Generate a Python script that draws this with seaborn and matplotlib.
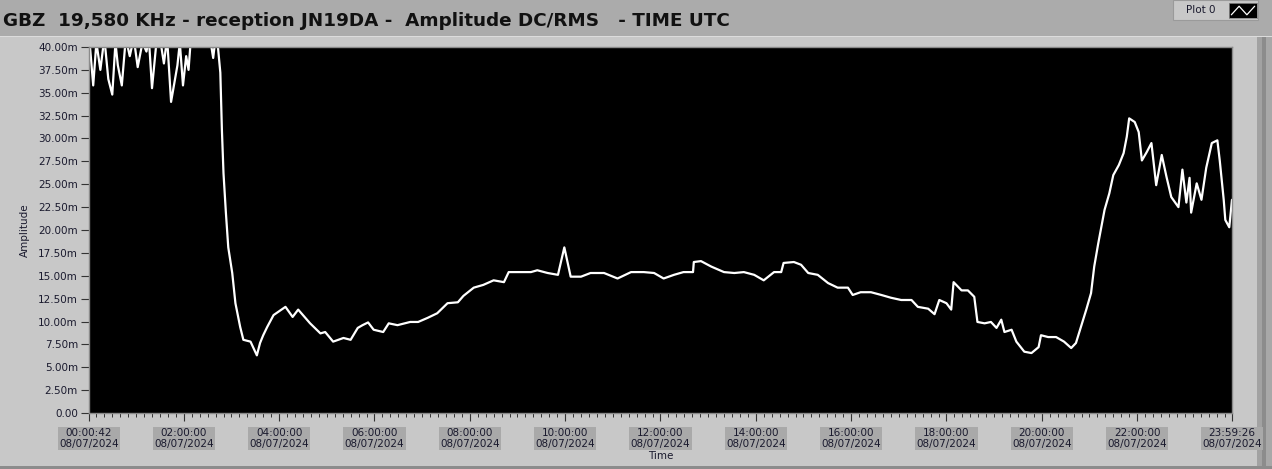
import matplotlib
matplotlib.use("Agg")
import matplotlib.pyplot as plt
import matplotlib.patches as mpatches
import seaborn as sns
import pandas as pd

# time in minutes after 00:00 UTC (08/07/2024), amplitude in mV (axis shows "m")
minutes = [
    1, 6, 10, 15, 20, 25, 30, 34, 37, 42, 47, 52, 57, 62, 68, 73, 76, 80, 85, 90,
    95, 99, 104, 108, 112, 115, 119, 123, 126, 129, 141, 153, 157, 160, 163, 166,
    168, 170, 173, 176, 181, 185, 191, 195, 204, 212, 216, 220, 225, 233, 248, 257,
    264, 279, 292, 298, 308, 321, 330, 339, 345, 352, 359, 371, 378, 389, 405, 415,
    427, 439, 452, 465, 472, 485, 497, 510, 523, 529, 544, 557, 565, 578, 591, 599,
    607, 620, 632, 649, 666, 683, 699, 712, 724, 737, 749, 761, 762, 771, 784, 800,
    813, 825, 838, 850, 863, 872, 875, 888, 897, 906, 918, 931, 943, 956, 962, 972,
    985, 998, 1010, 1023, 1036, 1044, 1057, 1065, 1071, 1080, 1086, 1089, 1099, 1107,
    1115, 1119, 1128, 1136, 1143, 1149, 1153, 1162, 1168, 1178, 1187, 1196, 1199, 1208,
    1218, 1228, 1237, 1243, 1250, 1256, 1262, 1266, 1271, 1279, 1285, 1290, 1297, 1303,
    1307, 1310, 1317, 1322, 1326, 1332, 1338, 1344, 1351, 1357, 1363, 1372, 1377, 1382,
    1386, 1388, 1395, 1401, 1407, 1414, 1421, 1424, 1429, 1431, 1436, 1439.4,
]
amplitude = [
    41, 35.8, 40.5, 37.5, 41, 36.5, 34.8, 40.5, 38, 35.8, 41, 39, 41, 37.8, 40.5, 39.5, 41, 35.5, 40, 41,
    38.2, 41, 34.0, 36, 38, 40.5, 35.8, 39, 37.5, 41, 42, 41, 38.8, 41, 40, 37.2,
    30.9, 26.2, 21.9, 18.1, 15.3, 12.0, 9.4, 8.0, 7.8, 6.3, 7.65, 8.5, 9.4, 10.7, 11.6, 10.5,
    11.3, 9.8, 8.7, 8.85, 7.8, 8.2, 8.0, 9.3, 9.6, 9.9, 9.1, 8.85, 9.8, 9.6, 9.95, 9.95,
    10.4, 10.9, 12.0, 12.1, 12.8, 13.7, 14.0, 14.5, 14.3, 15.4, 15.4, 15.4, 15.6, 15.3, 15.1, 18.1,
    14.9, 14.9, 15.3, 15.3, 14.7, 15.4, 15.4, 15.3, 14.7, 15.1, 15.4, 15.4, 16.5, 16.6, 16.0, 15.4,
    15.3, 15.4, 15.1, 14.5, 15.4, 15.4, 16.4, 16.5, 16.2, 15.3, 15.1, 14.2, 13.7, 13.7, 12.9, 13.2,
    13.2, 12.9, 12.6, 12.35, 12.35, 11.6, 11.4, 10.8, 12.35, 12.0, 11.3, 14.3, 13.4, 13.4,
    12.7, 9.95, 9.8, 9.95, 9.3, 10.2, 8.85, 9.1, 7.8, 6.7, 6.55, 7.2, 8.5, 8.3,
    8.3, 7.8, 7.1, 7.65, 9.6, 11.3, 13.1, 16.0, 18.5, 22.2, 24.0, 26.0, 27.1, 28.4,
    30.2, 32.2, 31.8, 30.7, 27.6, 28.5, 29.5, 24.9, 28.2, 25.8, 23.6, 22.5, 26.6, 23.0,
    25.7, 21.9, 25.1, 23.3, 26.8, 29.5, 29.8, 27.6, 23.3, 21.1, 20.3, 23.3,
]

x_tick_pos = [0.7, 120, 240, 360, 480, 600, 720, 840, 960, 1080, 1200, 1320, 1439.43]
x_tick_times = ["00:00:42", "02:00:00", "04:00:00", "06:00:00", "08:00:00", "10:00:00",
                "12:00:00", "14:00:00", "16:00:00", "18:00:00", "20:00:00", "22:00:00",
                "23:59:26"]
x_tick_date = "08/07/2024"
y_ticks = [i * 2.5 for i in range(17)]

df = pd.DataFrame({"Time": minutes, "Amplitude": amplitude})

sns.set_style("dark")
plt.rcParams["font.family"] = ["DejaVu Sans"]

W, H = 1272, 469
fig = plt.figure(figsize=(W / 100, H / 100), dpi=100)
fig.patch.set_facecolor("#c8c8c8")

# window chrome: title band, right scroll strips, bottom edge
fig.add_artist(mpatches.Rectangle((0, 1 - 36 / H), 1, 36 / H, transform=fig.transFigure,
                                  facecolor="#ababab", edgecolor="none", zorder=-2))
fig.add_artist(mpatches.Rectangle((0, 1 - 37 / H), 1, 1 / H, transform=fig.transFigure,
                                  facecolor="#dcdcdc", edgecolor="none", zorder=-2))
for x0, w, c in [(1257, 5, "#a2a2a2"), (1262, 4, "#8c8c8c"), (1266, 6, "#a8a8a8")]:
    fig.add_artist(mpatches.Rectangle((x0 / W, 0), w / W, 1 - 37 / H, transform=fig.transFigure,
                                      facecolor=c, edgecolor="none", zorder=-2))
fig.add_artist(mpatches.Rectangle((0, 0), 1, 3 / H, transform=fig.transFigure,
                                  facecolor="#8c8c8c", edgecolor="none", zorder=-2))

fig.text(3 / W, 1 - 21 / H, "GBZ  19,580 KHz - reception JN19DA -  Amplitude DC/RMS   - TIME UTC",
         fontsize=13.2, fontweight="bold", color="#111111", va="center", ha="left")

# "Plot 0" legend box
fig.add_artist(mpatches.Rectangle((1173 / W, 1 - 20 / H), 85 / W, 20 / H, transform=fig.transFigure,
                                  facecolor="#c8c8c8", edgecolor="#9a9a9a", lw=0.8, zorder=-1))
fig.text(1201 / W, 1 - 10 / H, "Plot 0", fontsize=7.5, color="#1a1a2e", ha="center", va="center")
lax = fig.add_axes([1229 / W, 1 - 18 / H, 28 / W, 15 / H])
lax.set_zorder(5)
lax.set_facecolor("black")
lax.plot([0, 1, 2, 3], [0.1, 0.9, 0.1, 0.9], color="white", lw=0.9)
lax.set_xlim(-0.3, 3.3)
lax.set_ylim(-0.2, 1.2)
lax.set_xticks([])
lax.set_yticks([])
for s in lax.spines.values():
    s.set_color("#888888")
    s.set_linewidth(0.6)

ax = fig.add_axes([89 / W, 1 - 413 / H, (1232 - 89) / W, (413 - 47) / H])
ax.set_facecolor("black")
sns.lineplot(data=df, x="Time", y="Amplitude", ax=ax, color="white", linewidth=1.6)

ax.set_xlim(x_tick_pos[0], x_tick_pos[-1])
ax.set_ylim(0, 40)
ax.grid(False)

ax.set_yticks(y_ticks)
ax.set_yticklabels(["0.00" if v == 0 else f"{v:.2f}m" for v in y_ticks])
ax.set_xticks(x_tick_pos)
ax.set_xticklabels([f"{t}\n{x_tick_date}" for t in x_tick_times])
ax.set_xticks(range(10, 1440, 10), minor=True)

ax.tick_params(axis="y", which="major", length=6, width=0.8, color="#333333", pad=2,
               labelsize=7.5, labelcolor="#1a1a2e", left=True)
ax.tick_params(axis="x", which="major", length=6, width=0.8, color="#333333", pad=5,
               labelsize=7.5, labelcolor="#1a1a2e", bottom=True)
ax.tick_params(axis="x", which="minor", length=3, width=0.7, color="#333333", bottom=True)
for lbl in ax.get_xticklabels():
    lbl.set_bbox(dict(facecolor="#a9a9a9", edgecolor="none", pad=1.0))
    lbl.set_linespacing(1.05)

ax.set_xlabel("Time", fontsize=7.5, color="#1a1a2e", labelpad=2)
ax.set_ylabel("Amplitude", fontsize=7.5, color="#1a1a2e", labelpad=6)

for s in ax.spines.values():
    s.set_visible(True)
    s.set_color("#8a8a8a")
    s.set_linewidth(1.0)

fig.savefig("out.png", dpi=100, facecolor=fig.get_facecolor())
